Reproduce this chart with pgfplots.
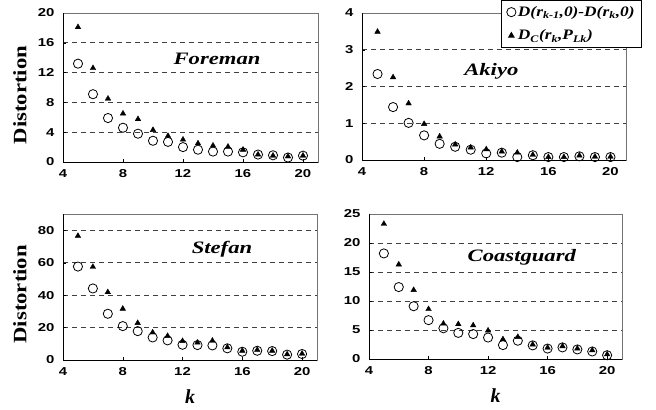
\documentclass[border=0pt]{standalone}
\usepackage{fontspec}
\usepackage{pgfplots}
\pgfplotsset{compat=1.18}
\setmainfont{Liberation Serif}
\newfontfamily\tickfont[FakeStretch=1.3]{Liberation Sans}
\newfontfamily\titlefont[FakeStretch=1.3]{Liberation Serif}
\newfontfamily\ylabfont[FakeStretch=1.2]{Liberation Serif}
\newfontfamily\legfont[FakeStretch=1.2]{Liberation Serif}

\pgfplotsset{
  panel/.style={
    scale only axis,
    xmin=4, xmax=21,
    xtick={4,8,12,16,20},
    ymin=0,
    axis line style={black!55},
    ymajorgrids,
    grid style={black!75, dashed, dash pattern=on 5bp off 4bp, line width=0.7bp},
    tick align=inside,
    major tick length=3bp,
    xtick pos=bottom, ytick pos=left,
    tick style={black},
    /pgf/number format/assume math mode=true,
    ticklabel style={font=\tickfont\bfseries\fontsize{11.5}{12}\selectfont},
    xticklabel style={yshift=-4bp},
    yticklabel style={xshift=-5bp},
    ylabel style={at={(rel axis cs:0,0.45)}, anchor=center, yshift=43bp,
      font=\ylabfont\bfseries\fontsize{19}{20}\selectfont},
    xlabel style={at={(rel axis cs:0.5,0)}, anchor=center, yshift=-37bp,
      font=\bfseries\itshape\fontsize{20}{20}\selectfont},
    clip=false,
  },
  circ/.style={only marks, mark=o, mark size=4.6bp, mark options={fill=white, draw=black, line width=0.8bp}},
  tri/.style={only marks, mark=triangle*, mark size=3.2bp, mark options={fill=black, draw=black}},
}
\newcommand{\panelframe}{\draw[black, line width=0.8bp] (rel axis cs:0,1) -- (rel axis cs:0,0) -- (rel axis cs:1,0);}
\newcommand{\ttl}[3]{\node[anchor=center, font=\titlefont\bfseries\itshape\fontsize{17.5}{18}\selectfont] at (rel axis cs:#1,#2) {#3};}

\begin{document}
\begin{tikzpicture}
\useasboundingbox (0,0) rectangle (656bp,410bp);

% Foreman
\begin{axis}[panel, at={(63bp,248bp)}, anchor=south west, width=255bp, height=149bp,
  ymax=20, ytick={0,4,8,12,16,20}, ylabel={Distortion}]
\addplot[circ] coordinates {(5,13.2)(6,9.1)(7,5.9)(8,4.6)(9,3.8)(10,2.85)(11,2.7)(12,2.0)(13,1.65)(14,1.4)(15,1.4)(16,1.3)(17,1.0)(18,0.9)(19,0.6)(20,0.85)};
\addplot[tri] coordinates {(5,18.1)(6,12.6)(7,8.5)(8,6.5)(9,5.75)(10,4.3)(11,3.5)(12,3.0)(13,2.5)(14,2.2)(15,2.05)(16,1.65)(17,1.0)(18,0.85)(19,0.75)(20,0.85)};
\panelframe
\ttl{0.604}{0.69}{Foreman}
\end{axis}

% Akiyo
\begin{axis}[panel, at={(362bp,250bp)}, anchor=south west, width=264bp, height=147bp,
  ymax=4, ytick={0,1,2,3,4}]
\addplot[circ] coordinates {(5,2.34)(6,1.44)(7,1.01)(8,0.67)(9,0.44)(10,0.36)(11,0.28)(12,0.18)(13,0.2)(14,0.08)(15,0.13)(16,0.08)(17,0.08)(18,0.1)(19,0.08)(20,0.08)};
\addplot[tri] coordinates {(5,3.49)(6,2.25)(7,1.54)(8,0.98)(9,0.64)(10,0.42)(11,0.34)(12,0.29)(13,0.23)(14,0.2)(15,0.14)(16,0.08)(17,0.08)(18,0.12)(19,0.09)(20,0.09)};
\panelframe
\ttl{0.49}{0.60}{Akiyo}
\end{axis}

% Stefan
\begin{axis}[panel, at={(63bp,50bp)}, anchor=south west, width=254bp, height=146bp,
  ymax=90, ytick={0,20,40,60,80}, ylabel={Distortion}, xlabel={k}]
\addplot[circ] coordinates {(5,57.6)(6,44.1)(7,28.5)(8,20.9)(9,17.8)(10,13.9)(11,12.1)(12,9.4)(13,9.2)(14,9.0)(15,7.2)(16,5.1)(17,5.7)(18,5.5)(19,3.3)(20,3.7)};
\addplot[tri] coordinates {(5,76.5)(6,57.4)(7,41.8)(8,31.6)(9,22.8)(10,17.0)(11,14.8)(12,11.7)(13,10.7)(14,11.9)(15,7.8)(16,5.7)(17,6.2)(18,5.7)(19,3.5)(20,3.9)};
\panelframe
\ttl{0.626}{0.76}{Stefan}
\end{axis}

% Coastguard (carries the shared legend, drawn last so it sits on top)
\begin{axis}[panel, at={(369bp,51bp)}, anchor=south west, width=253bp, height=145bp,
  ymax=25, ytick={0,5,10,15,20,25}, xlabel={k},
  legend style={at={(1.079,2.476)}, anchor=north east, draw=black, fill=white,
    line width=0.8bp, font=\legfont\bfseries\itshape\fontsize{14.5}{15}\selectfont,
    row sep=8bp, inner xsep=5bp, inner ysep=4bp},
  legend cell align=left]
\addplot[circ] coordinates {(5,18.2)(6,12.4)(7,9.1)(8,6.7)(9,5.3)(10,4.5)(11,4.3)(12,3.7)(13,2.4)(14,3.15)(15,2.35)(16,1.8)(17,2.0)(18,1.65)(19,1.3)(20,0.65)};
\addlegendentry{D(r\textsubscript{k-1},0)-D(r\textsubscript{k},0)}
\addplot[tri] coordinates {(5,23.3)(6,16.3)(7,11.9)(8,8.6)(9,6.1)(10,6.0)(11,5.8)(12,4.9)(13,3.4)(14,3.8)(15,2.5)(16,1.95)(17,2.2)(18,1.8)(19,1.5)(20,0.8)};
\addlegendentry{D\textsubscript{C}(r\textsubscript{k},P\textsubscript{Lk})}
\panelframe
\ttl{0.604}{0.70}{Coastguard}
\end{axis}
\end{tikzpicture}
\end{document}
